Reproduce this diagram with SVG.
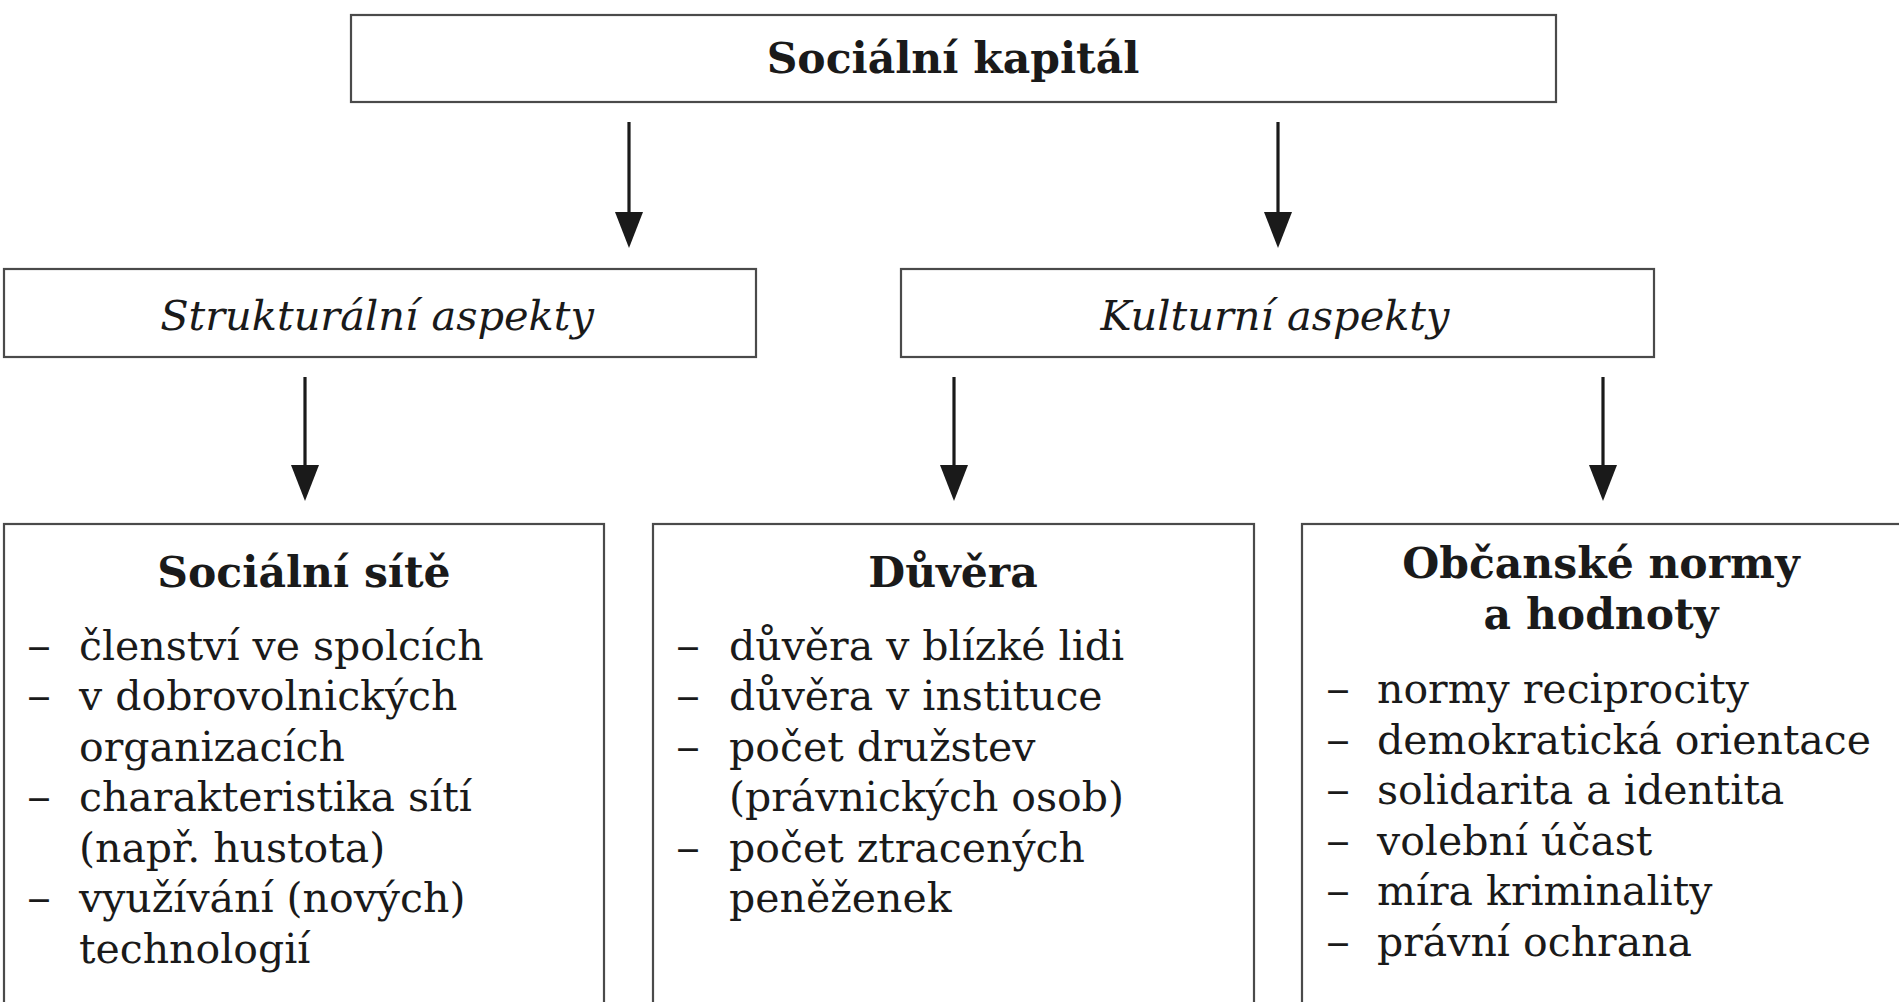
<svg xmlns="http://www.w3.org/2000/svg" width="1899" height="1002" viewBox="0 0 1899 1002">
<style>
.box{fill:#fff;stroke:#4a4a4a;stroke-width:2.2}
.t{font-family:"DejaVu Serif","Liberation Serif",serif;fill:#1a1a1a}
.tb{font-weight:bold;font-size:42.5px;text-anchor:middle}
.ti{font-style:italic;font-size:41.5px;text-anchor:middle}
.tl{font-size:41px}
.conn{stroke:#1a1a1a;stroke-width:3.2;fill:none;marker-end:url(#ah)}
</style>
<defs>
<marker id="ah" markerUnits="userSpaceOnUse" markerWidth="36" markerHeight="28" refX="20" refY="14" orient="auto" viewBox="0 0 36 28">
<path d="M0,0 L36,14 L0,28 z" fill="#1a1a1a"/>
</marker>
</defs>
<rect width="1899" height="1002" fill="#fff"/>
<g id="n-socialni-kapital">
<rect class="box" x="351" y="15" width="1205" height="87"/>
<text class="t tb" x="953" y="73">Sociální kapitál</text>
</g>
<g id="n-strukturalni">
<rect class="box" x="4" y="269" width="752" height="88"/>
<text class="t ti" x="377" y="330">Strukturální aspekty</text>
</g>
<g id="n-kulturni">
<rect class="box" x="901" y="269" width="753" height="88"/>
<text class="t ti" x="1275" y="330">Kulturní aspekty</text>
</g>
<g id="n-site">
<rect class="box" x="4" y="524" width="600" height="490"/>
<text class="t tb" x="304" y="587">Sociální sítě</text>
<g class="t tl">
<text x="27" y="660" textLength="24" lengthAdjust="spacingAndGlyphs">–</text><text x="79" y="660">členství ve spolcích</text>
<text x="27" y="710" textLength="24" lengthAdjust="spacingAndGlyphs">–</text><text x="79" y="710">v dobrovolnických</text>
<text x="79" y="761">organizacích</text>
<text x="27" y="811" textLength="24" lengthAdjust="spacingAndGlyphs">–</text><text x="79" y="811">charakteristika sítí</text>
<text x="79" y="862">(např. hustota)</text>
<text x="27" y="912" textLength="24" lengthAdjust="spacingAndGlyphs">–</text><text x="79" y="912">využívání (nových)</text>
<text x="79" y="963">technologií</text>
</g>
</g>
<g id="n-duvera">
<rect class="box" x="653" y="524" width="601" height="490"/>
<text class="t tb" x="953" y="587">Důvěra</text>
<g class="t tl">
<text x="676" y="660" textLength="24" lengthAdjust="spacingAndGlyphs">–</text><text x="729" y="660">důvěra v blízké lidi</text>
<text x="676" y="710" textLength="24" lengthAdjust="spacingAndGlyphs">–</text><text x="729" y="710">důvěra v instituce</text>
<text x="676" y="761" textLength="24" lengthAdjust="spacingAndGlyphs">–</text><text x="729" y="761">počet družstev</text>
<text x="729" y="811">(právnických osob)</text>
<text x="676" y="862" textLength="24" lengthAdjust="spacingAndGlyphs">–</text><text x="729" y="862">počet ztracených</text>
<text x="729" y="912">peněženek</text>
</g>
</g>
<g id="n-normy">
<rect class="box" x="1302" y="524" width="602" height="490"/>
<text class="t tb" x="1601" y="578">Občanské normy</text>
<text class="t tb" x="1601" y="629">a hodnoty</text>
<g class="t tl">
<text x="1326" y="703" textLength="24" lengthAdjust="spacingAndGlyphs">–</text><text x="1377" y="703">normy reciprocity</text>
<text x="1326" y="754" textLength="24" lengthAdjust="spacingAndGlyphs">–</text><text x="1377" y="754">demokratická orientace</text>
<text x="1326" y="804" textLength="24" lengthAdjust="spacingAndGlyphs">–</text><text x="1377" y="804">solidarita a identita</text>
<text x="1326" y="855" textLength="24" lengthAdjust="spacingAndGlyphs">–</text><text x="1377" y="855">volební účast</text>
<text x="1326" y="905" textLength="24" lengthAdjust="spacingAndGlyphs">–</text><text x="1377" y="905">míra kriminality</text>
<text x="1326" y="956" textLength="24" lengthAdjust="spacingAndGlyphs">–</text><text x="1377" y="956">právní ochrana</text>
</g>
</g>
<g id="connectors">
<line class="conn" x1="629" y1="122" x2="629" y2="232"/>
<line class="conn" x1="1278" y1="122" x2="1278" y2="232"/>
<line class="conn" x1="305" y1="377" x2="305" y2="485"/>
<line class="conn" x1="954" y1="377" x2="954" y2="485"/>
<line class="conn" x1="1603" y1="377" x2="1603" y2="485"/>
</g>
</svg>
